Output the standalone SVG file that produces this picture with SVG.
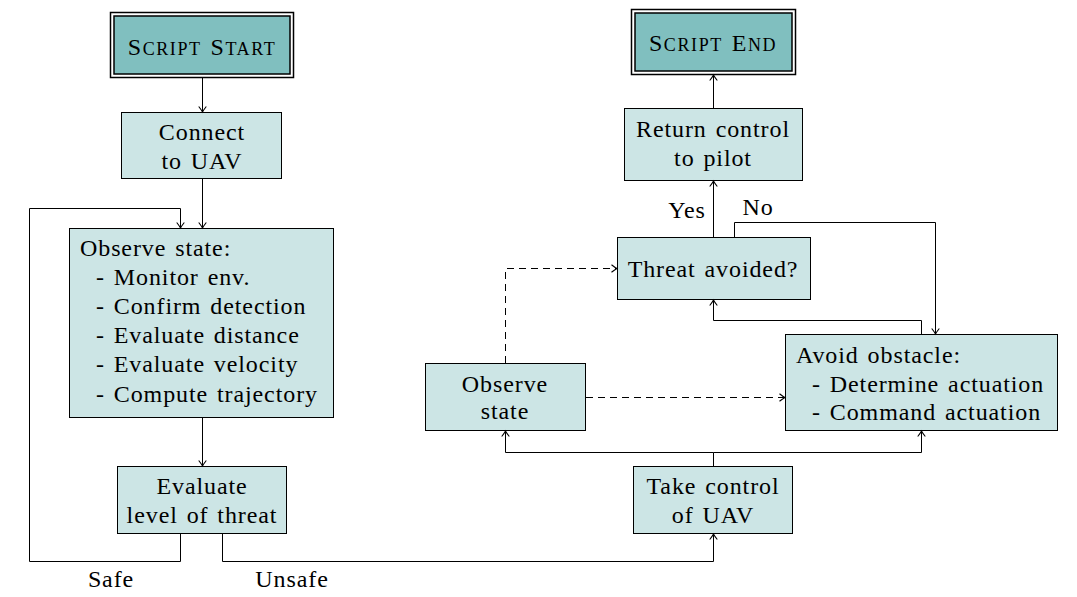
<svg xmlns="http://www.w3.org/2000/svg" width="1077" height="597" viewBox="0 0 1077 597">
<style>
.n{fill:#cce5e5;stroke:#000;stroke-width:1}
.t{fill:#80bfbf;stroke:#000;stroke-width:1.5}
.tx{font-family:"Liberation Serif","Times New Roman",serif;font-size:24px;fill:#000;letter-spacing:0.9px;word-spacing:2px}
.c{text-anchor:middle}
.sc{font-family:"Liberation Serif","Times New Roman",serif;fill:#000;text-anchor:middle;letter-spacing:1.6px;word-spacing:3px}
.e{fill:none;stroke:#000;stroke-width:1}
.d{fill:none;stroke:#000;stroke-width:1;stroke-dasharray:7,5}
</style>
<defs>
<marker id="a" markerUnits="userSpaceOnUse" markerWidth="12" markerHeight="12" viewBox="-7 -6 8 12" refX="0" refY="0" orient="auto">
<path d="M-5.5,-3.8 Q-2,-1 0,0 Q-2,1 -5.5,3.8" fill="none" stroke="#000" stroke-width="1.1"/>
</marker>
</defs>
<rect width="1077" height="597" fill="#fff"/>
<g id="start">
<rect class="t" x="110.5" y="12.5" width="183" height="65" style="fill:#fff"/>
<rect class="t" x="114" y="16" width="176" height="58"/>
<text class="sc" x="202" y="55"><tspan font-size="24">S</tspan><tspan font-size="18">CRIPT </tspan><tspan font-size="24">S</tspan><tspan font-size="18">TART</tspan></text>
</g>
<g id="connect">
<rect class="n" x="121.5" y="112.5" width="160" height="66"/>
<text class="tx c" x="202" y="140">Connect</text>
<text class="tx c" x="202" y="169">to UAV</text>
</g>
<g id="observe1">
<rect class="n" x="69.5" y="228.5" width="264" height="189"/>
<text class="tx" x="80" y="256">Observe state:</text>
<text class="tx" x="96" y="285">- Monitor env.</text>
<text class="tx" x="96" y="314">- Confirm detection</text>
<text class="tx" x="96" y="343">- Evaluate distance</text>
<text class="tx" x="96" y="372">- Evaluate velocity</text>
<text class="tx" x="96" y="402">- Compute trajectory</text>
</g>
<g id="evaluate">
<rect class="n" x="117.5" y="466.5" width="169" height="67"/>
<text class="tx c" x="202" y="494">Evaluate</text>
<text class="tx c" x="202" y="523">level of threat</text>
</g>
<g id="takecontrol">
<rect class="n" x="633.5" y="466.5" width="159" height="67"/>
<text class="tx c" x="713" y="494">Take control</text>
<text class="tx c" x="713" y="523">of UAV</text>
</g>
<g id="observe2">
<rect class="n" x="425.5" y="363.5" width="160" height="67"/>
<text class="tx c" x="505" y="392">Observe</text>
<text class="tx c" x="505" y="419">state</text>
</g>
<g id="avoid">
<rect class="n" x="785.5" y="334.5" width="272" height="96"/>
<text class="tx" x="796" y="363">Avoid obstacle:</text>
<text class="tx" x="812" y="392">- Determine actuation</text>
<text class="tx" x="812" y="420">- Command actuation</text>
</g>
<g id="threat">
<rect class="n" x="617.5" y="237.5" width="193" height="62"/>
<text class="tx c" x="713" y="277">Threat avoided?</text>
</g>
<g id="return">
<rect class="n" x="624.5" y="108.5" width="178" height="72"/>
<text class="tx c" x="713" y="137">Return control</text>
<text class="tx c" x="713" y="166">to pilot</text>
</g>
<g id="end">
<rect class="t" x="631.5" y="9.5" width="164" height="65" style="fill:#fff"/>
<rect class="t" x="635" y="13" width="157" height="58"/>
<text class="sc" x="713" y="51"><tspan font-size="24">S</tspan><tspan font-size="18">CRIPT </tspan><tspan font-size="24">E</tspan><tspan font-size="18">ND</tspan></text>
</g>
<g id="connectors">
<path class="e" marker-end="url(#a)" d="M202.5,78 V112"/>
<path class="e" marker-end="url(#a)" d="M202.5,179 V228"/>
<path class="e" marker-end="url(#a)" d="M202.5,418 V466"/>
<path class="e" marker-end="url(#a)" d="M180.5,534 V561.5 H29.5 V208.5 H180.5 V228"/>
<path class="e" marker-end="url(#a)" d="M222.5,534 V561.5 H713.5 V534"/>
<path class="e" d="M713.5,466 V452.5"/>
<path class="e" marker-end="url(#a)" d="M713.5,452.5 H505.5 V431"/>
<path class="e" marker-end="url(#a)" d="M713.5,452.5 H921.5 V431"/>
<path class="d" marker-end="url(#a)" d="M586,397.5 H785"/>
<path class="d" marker-end="url(#a)" d="M505.5,363 V268.5 H617"/>
<path class="e" marker-end="url(#a)" d="M921.5,334 V320.5 H713.5 V300"/>
<path class="e" marker-end="url(#a)" d="M734.5,237 V222.5 H935.5 V334"/>
<path class="e" marker-end="url(#a)" d="M713.5,237 V181"/>
<path class="e" marker-end="url(#a)" d="M713.5,108 V75"/>
<text class="tx c" x="111" y="587">Safe</text>
<text class="tx c" x="292" y="587">Unsafe</text>
<text class="tx c" x="687" y="218">Yes</text>
<text class="tx c" x="758" y="215">No</text>
</g>
</svg>
